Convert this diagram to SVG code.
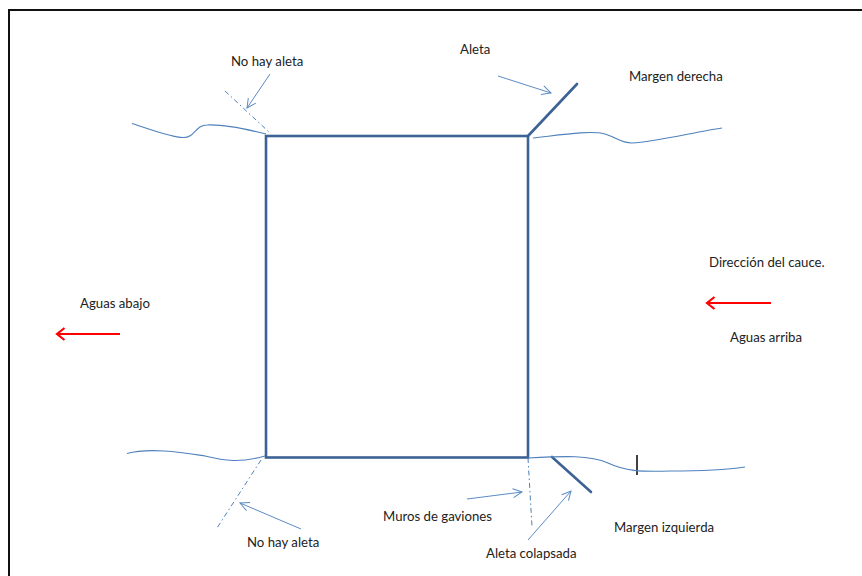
<svg xmlns="http://www.w3.org/2000/svg" width="862" height="576" viewBox="0 0 862 576">
<style>
text{font-family:"Lato","Noto Sans",sans-serif;font-size:13.2px;fill:#222}
.w{fill:none;stroke:#3d6294;stroke-width:2.6;stroke-linecap:round}
.r{fill:none;stroke:#4f81bd;stroke-width:1.1}
.d{fill:none;stroke:#4f81bd;stroke-width:1;stroke-dasharray:5 3 1.500 3}
.a{fill:none;stroke:#5b8bc4;stroke-width:1}
.e{fill:none;stroke:#f00;stroke-width:2.2}
</style>
<defs>
<marker id="open" markerUnits="userSpaceOnUse" markerWidth="14" markerHeight="14" refX="12" refY="7" orient="auto"><path d="M3 2.500L12 7L3 11.500" fill="none" stroke="#5b8bc4" stroke-width="1"/></marker>
<marker id="red" markerUnits="userSpaceOnUse" markerWidth="16" markerHeight="18" refX="10" refY="9" orient="auto"><path d="M2.500 3L10 9L2.500 15" fill="none" stroke="#f00" stroke-width="2.200"/></marker>
</defs>
<g id="frame"><path d="M862 10H9V576" fill="none" stroke="#111" stroke-width="2"/></g>
<g id="estructura">
<rect x="266" y="136" width="262" height="321.500" class="w"/>
<path class="w" d="M528 136L577 84"/>
<path class="w" d="M552 457L591 492"/>
<path d="M637 455V475" fill="none" stroke="#111" stroke-width="1.600"/>
</g>
<g id="connectors">
<path class="r" d="M132 123.500C150 129 170 137 183 137.500C195 138 195 125 207 125C225 124 250 130 266 134"/>
<path class="r" d="M533 138C560 135 590 130 605 134C618 138 620 143 632 143C655 142 695 132 722 128"/>
<path class="r" d="M127 453.500C150 447 185 453 205 456C225 461 240 463 265 456"/>
<path class="r" d="M528 458C565 456 590 455 608 463C625 471 640 472 670 471C700 471 725 470 745 467"/>
<path class="d" d="M225 91L270 133"/>
<path class="d" d="M261 460L217 528"/>
<path class="d" d="M528 458L532 527"/>
<path class="a" marker-end="url(#open)" d="M270 74L247 108"/>
<path class="a" marker-end="url(#open)" d="M498 76L551 93"/>
<path class="a" marker-end="url(#open)" d="M467 499L522 492"/>
<path class="a" marker-end="url(#open)" d="M528 540L571 491"/>
<path class="a" marker-end="url(#open)" d="M301 529L240 503"/>
<path class="e" marker-end="url(#red)" d="M120 334H57"/>
<path class="e" marker-end="url(#red)" d="M771 303H707"/>
</g>
<g id="labels">
<text x="231" y="66">No hay aleta</text>
<text x="460" y="54">Aleta</text>
<text x="629" y="81">Margen derecha</text>
<text x="709" y="267">Dirección del cauce.</text>
<text x="730" y="342">Aguas arriba</text>
<text x="80" y="308">Aguas abajo</text>
<text x="383" y="521">Muros de gaviones</text>
<text x="614" y="532">Margen izquierda</text>
<text x="486" y="558">Aleta colapsada</text>
<text x="247" y="547">No hay aleta</text>
</g>
</svg>
